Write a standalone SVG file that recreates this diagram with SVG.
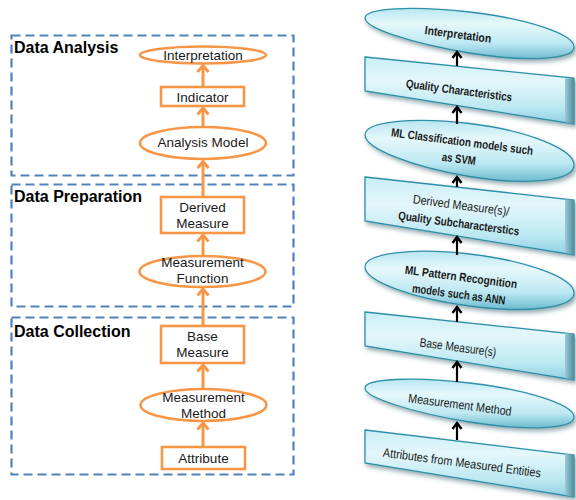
<svg xmlns="http://www.w3.org/2000/svg" width="576" height="500" viewBox="0 0 576 500">
  <style>
    .stage { fill: none; stroke: #4F81BD; stroke-width: 2.2; stroke-dasharray: 9 5; }
    .stage-title { font-family: "Liberation Sans", Arial, sans-serif; font-size: 16px; font-weight: bold; fill: #000; }
    .onode { fill: #fff; stroke: #F79646; stroke-width: 2.6; }
    .olabel { font-family: "Liberation Sans", Arial, sans-serif; font-size: 13.5px; fill: #1a1a1a; text-anchor: middle; }
    .oarrow { stroke: #F79646; stroke-width: 3; fill: none; marker-end: url(#orangeHead); }
    .cshape { stroke: #2F8FA7; stroke-width: 1.3; filter: url(#softShadow); }
    .cbox { fill: url(#boxFace); }
    .cell { fill: url(#ellFace); }
    .bevel { fill: url(#bevelFace); }
    .clabel { font-family: "Liberation Sans", Arial, sans-serif; font-size: 12.5px; fill: #1a1a1a; text-anchor: middle; }
    .clabel.b { font-weight: bold; font-size: 12px; }
    .karrow { stroke: #000; stroke-width: 2.2; fill: none; marker-end: url(#blackHead); }
  </style>
  <defs>
    <marker id="orangeHead" viewBox="-9 -7 11 14" markerWidth="11" markerHeight="14" refX="0" refY="0" orient="auto" markerUnits="userSpaceOnUse" overflow="visible">
      <path d="M-6.5,-5.5 L0,0 L-6.5,5.5" fill="none" stroke="#F79646" stroke-width="2.8"/>
    </marker>
    <marker id="blackHead" viewBox="-9 -7 11 14" markerWidth="11" markerHeight="14" refX="0" refY="0" orient="auto" markerUnits="userSpaceOnUse" overflow="visible">
      <path d="M-6,-4.5 L0,0 L-6,4.5" fill="none" stroke="#000" stroke-width="2.4"/>
    </marker>
    <linearGradient id="boxFace" x1="0" y1="0" x2="0" y2="1">
      <stop offset="0" stop-color="#C9EEF6"/>
      <stop offset="0.35" stop-color="#E4F7FB"/>
      <stop offset="0.75" stop-color="#BCE8F2"/>
      <stop offset="1" stop-color="#8FD0E0"/>
    </linearGradient>
    <linearGradient id="ellFace" x1="0" y1="0" x2="0" y2="1">
      <stop offset="0" stop-color="#B7E6F1"/>
      <stop offset="0.3" stop-color="#E6F8FB"/>
      <stop offset="0.7" stop-color="#BDE8F2"/>
      <stop offset="1" stop-color="#6DBBD0"/>
    </linearGradient>
    <linearGradient id="bevelFace" x1="0" y1="0" x2="1" y2="0">
      <stop offset="0" stop-color="#9CCAD6"/>
      <stop offset="1" stop-color="#4D8E9F"/>
    </linearGradient>
    <filter id="softShadow" x="-10%" y="-20%" width="125%" height="160%">
      <feGaussianBlur in="SourceAlpha" stdDeviation="2"/>
      <feOffset dx="1.5" dy="3" result="blur"/>
      <feFlood flood-color="#1E4F5C" flood-opacity="0.45"/>
      <feComposite in2="blur" operator="in"/>
      <feMerge>
        <feMergeNode/>
        <feMergeNode in="SourceGraphic"/>
      </feMerge>
    </filter>
  </defs>

  <!-- Stage frames on the left -->
  <g id="stage-analysis">
    <rect class="stage" x="11.5" y="35.5" width="282" height="140"/>
    <text class="stage-title" x="14" y="53">Data Analysis</text>
  </g>
  <g id="stage-preparation">
    <rect class="stage" x="11.5" y="184.5" width="282" height="122"/>
    <text class="stage-title" x="14" y="202">Data Preparation</text>
  </g>
  <g id="stage-collection">
    <rect class="stage" x="11.5" y="317.5" width="282" height="157"/>
    <text class="stage-title" x="14" y="337">Data Collection</text>
  </g>

  <!-- Left flow nodes -->
  <g id="n-interpretation">
    <ellipse class="onode" cx="203" cy="55" rx="63" ry="8.5"/>
    <text class="olabel" x="203" y="59.5">Interpretation</text>
  </g>
  <g id="n-indicator">
    <rect class="onode" x="161" y="87" width="83" height="19"/>
    <text class="olabel" x="202.5" y="101.5">Indicator</text>
  </g>
  <g id="n-analysis-model">
    <ellipse class="onode" cx="203" cy="143" rx="63" ry="16"/>
    <text class="olabel" x="203" y="147">Analysis Model</text>
  </g>
  <g id="n-derived-measure">
    <rect class="onode" x="161" y="197" width="83" height="36"/>
    <text class="olabel" x="202.5" y="211.5">Derived</text>
    <text class="olabel" x="202.5" y="228">Measure</text>
  </g>
  <g id="n-measurement-function">
    <ellipse class="onode" cx="202.5" cy="271.5" rx="63" ry="15.5"/>
    <text class="olabel" x="202.5" y="267">Measurement</text>
    <text class="olabel" x="202.5" y="283">Function</text>
  </g>
  <g id="n-base-measure">
    <rect class="onode" x="161" y="326" width="83" height="37"/>
    <text class="olabel" x="202.5" y="340.5">Base</text>
    <text class="olabel" x="202.5" y="357">Measure</text>
  </g>
  <g id="n-measurement-method">
    <ellipse class="onode" cx="203.5" cy="405" rx="63" ry="16"/>
    <text class="olabel" x="203.5" y="402">Measurement</text>
    <text class="olabel" x="203.5" y="418">Method</text>
  </g>
  <g id="n-attribute">
    <rect class="onode" x="162" y="447" width="83" height="22"/>
    <text class="olabel" x="203.5" y="463">Attribute</text>
  </g>

  <!-- Right flow nodes (tilted 3D shapes) -->
  <g id="r-interpretation">
    <path class="cshape cell" d="M365,18 C365,8.06 411.79,5.37 469.5,12 C527.21,18.63 574,34.3 574,47 C574,59.7 527.21,62.39 469.5,53 C411.79,43.61 365,27.94 365,18 Z"/>
    <text class="clabel b" transform="rotate(7.5 458 34.5)" x="458" y="38.5" textLength="67" lengthAdjust="spacingAndGlyphs">Interpretation</text>
  </g>
  <g id="r-quality-characteristics">
    <polygon class="cshape cbox" points="365,57 574,78 574,124 365,91"/>
    <polygon class="bevel" points="565,78.5 574,78 574,124 565,122"/>
    <text class="clabel b" transform="rotate(7.5 459 90.5)" x="459" y="94.5" textLength="107" lengthAdjust="spacingAndGlyphs">Quality Characteristics</text>
  </g>
  <g id="r-ml-classification">
    <path class="cshape cell" d="M365,135 C365,121.74 411.78,116.6 469.5,123.5 C527.22,130.4 574,148.98 574,165 C574,181.02 527.22,186.17 469.5,176.5 C411.78,166.83 365,148.26 365,135 Z"/>
    <g transform="rotate(7.5 460 150)">
      <text class="clabel b" x="461" y="145.5" textLength="143" lengthAdjust="spacingAndGlyphs">ML Classification models such</text>
      <text class="clabel b" x="460" y="163" textLength="34" lengthAdjust="spacingAndGlyphs">as SVM</text>
    </g>
  </g>
  <g id="r-derived-measures">
    <polygon class="cshape cbox" points="365,177 574,200 574,255 365,221"/>
    <polygon class="bevel" points="565,199.5 574,200 574,255 565,252.5"/>
    <g transform="rotate(7.5 460 214)">
      <text class="clabel" x="460" y="209.5" textLength="97" lengthAdjust="spacingAndGlyphs">Derived Measure(s)/</text>
      <text class="clabel b" x="460" y="227.5" textLength="122" lengthAdjust="spacingAndGlyphs">Quality Subcharacterstics</text>
    </g>
  </g>
  <g id="r-ml-pattern">
    <path class="cshape cell" d="M365,267 C365,253.19 411.78,247.37 469.5,254 C527.22,260.63 574,278.09 574,293 C574,307.91 527.22,313.73 469.5,306 C411.78,298.27 365,280.81 365,267 Z"/>
    <g transform="rotate(7.5 460 285)">
      <text class="clabel b" x="460" y="281" textLength="113" lengthAdjust="spacingAndGlyphs">ML Pattern Recognition</text>
      <text class="clabel b" x="460" y="298.5" textLength="94" lengthAdjust="spacingAndGlyphs">models such as ANN</text>
    </g>
  </g>
  <g id="r-base-measures">
    <polygon class="cshape cbox" points="365,312 574,334 574,380 365,346"/>
    <polygon class="bevel" points="565,333 574,334 574,380 565,378"/>
    <text class="clabel" transform="rotate(7.5 458 347)" x="458" y="351.5" textLength="77" lengthAdjust="spacingAndGlyphs">Base Measure(s)</text>
  </g>
  <g id="r-measurement-method">
    <path class="cshape cell" d="M365,388 C365,378.61 411.78,376.37 469.5,383 C527.22,389.63 574,404.85 574,417 C574,429.15 527.22,431.39 469.5,422 C411.78,412.61 365,397.39 365,388 Z"/>
    <text class="clabel" transform="rotate(7.5 460 404.5)" x="460" y="409" textLength="104" lengthAdjust="spacingAndGlyphs">Measurement Method</text>
  </g>
  <g id="r-attributes">
    <polygon class="cshape cbox" points="365,430 574,455 574,497 365,463"/>
    <polygon class="bevel" points="565,454 574,455 574,497 565,495"/>
    <text class="clabel" transform="rotate(7.5 462 462.5)" x="462" y="467" textLength="159" lengthAdjust="spacingAndGlyphs">Attributes from Measured Entities</text>
  </g>

  <!-- Connectors -->
  <g id="connectors">
    <line class="oarrow" x1="203" y1="87" x2="203" y2="65.5"/>
    <line class="oarrow" x1="203" y1="127" x2="203" y2="108"/>
    <line class="oarrow" x1="203" y1="197" x2="203" y2="161.5"/>
    <line class="oarrow" x1="203" y1="256" x2="203" y2="235"/>
    <line class="oarrow" x1="203" y1="326" x2="203" y2="289"/>
    <line class="oarrow" x1="203" y1="389" x2="203" y2="365"/>
    <line class="oarrow" x1="203" y1="447" x2="203" y2="423"/>

    <line class="karrow" x1="457" y1="66" x2="457" y2="52"/>
    <line class="karrow" x1="457" y1="124" x2="457" y2="107"/>
    <line class="karrow" x1="457" y1="187" x2="457" y2="177"/>
    <line class="karrow" x1="457" y1="255" x2="457" y2="237"/>
    <line class="karrow" x1="457" y1="322" x2="457" y2="307"/>
    <line class="karrow" x1="457" y1="382" x2="457" y2="362"/>
    <line class="karrow" x1="457" y1="440" x2="457" y2="423"/>
  </g>
</svg>
